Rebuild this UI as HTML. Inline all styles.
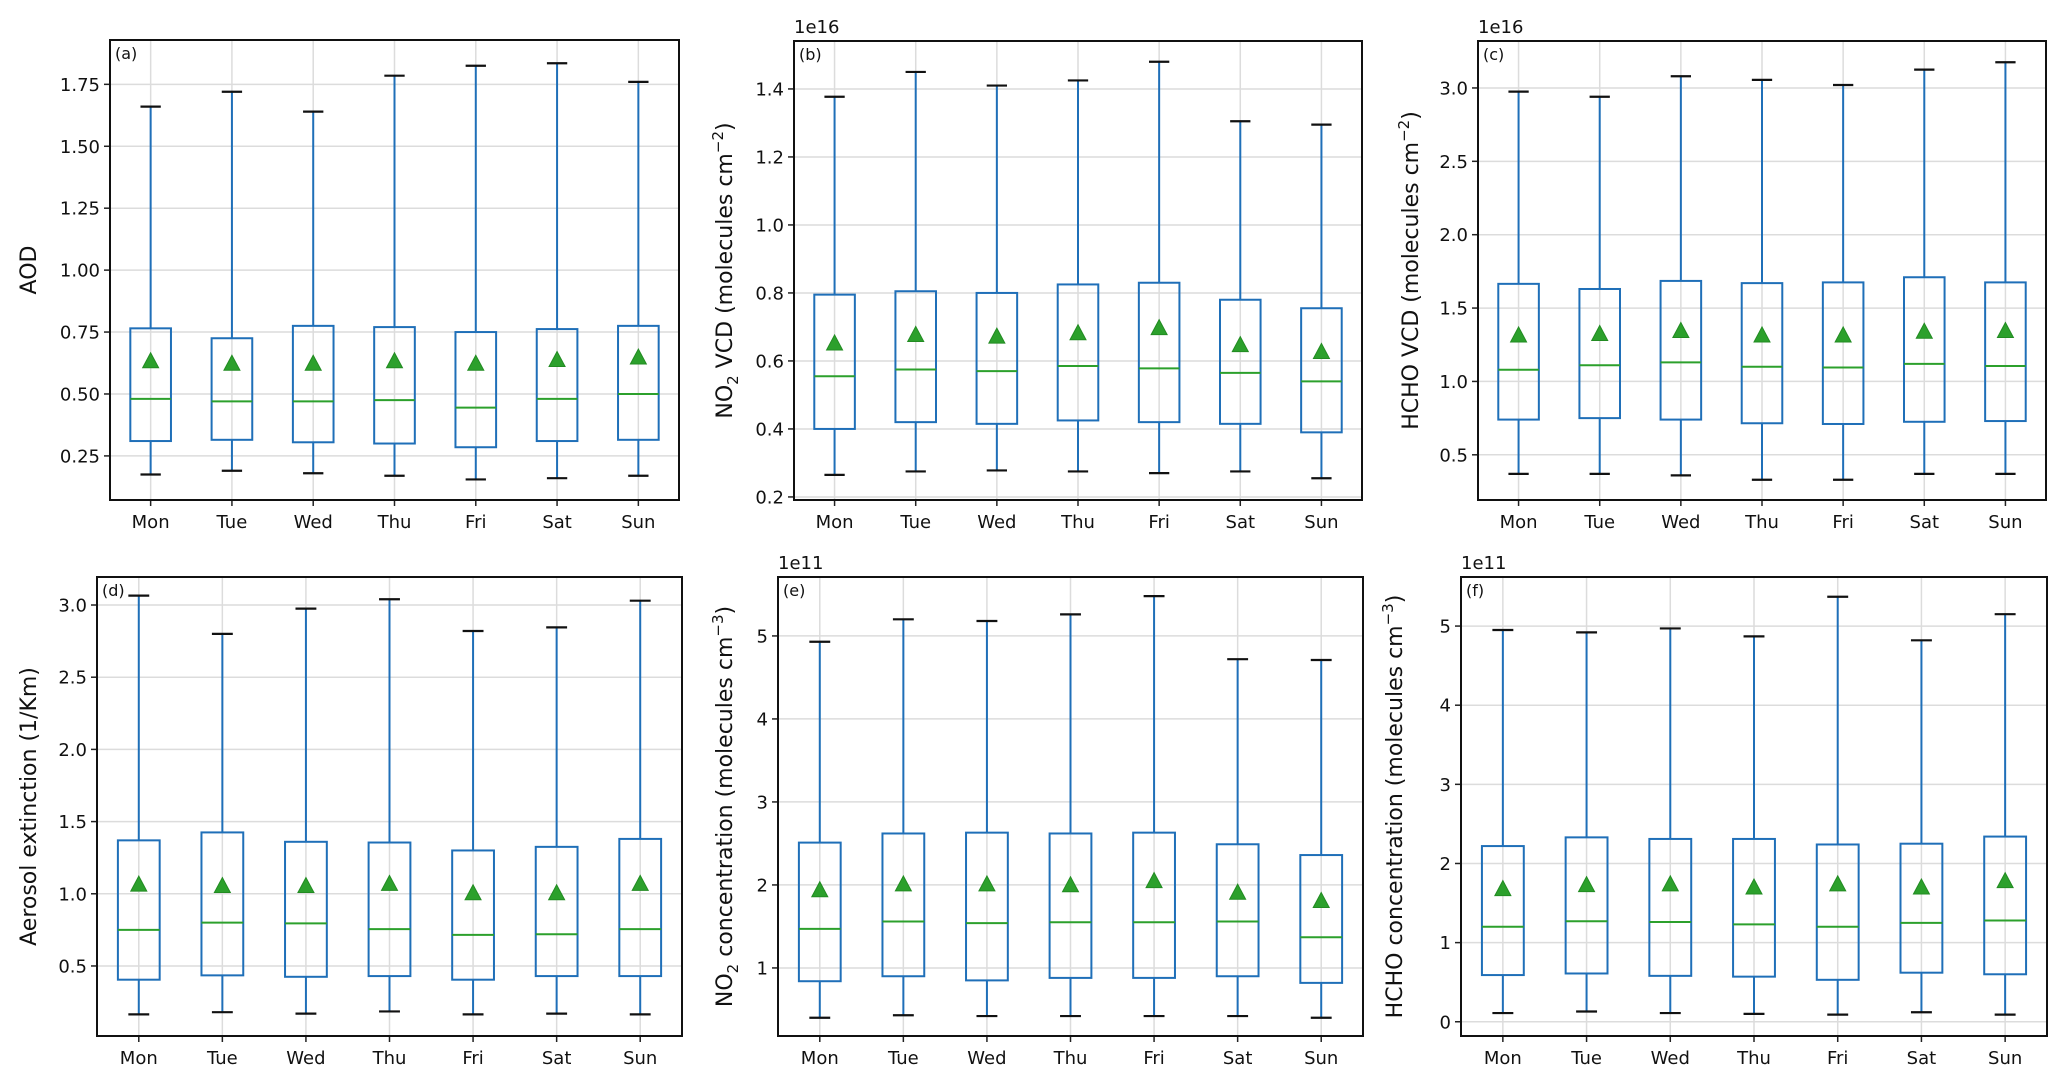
<!DOCTYPE html>
<html><head><meta charset="utf-8"><style>
html,body{margin:0;padding:0;background:#fff;}
svg{display:block;font-family:"DejaVu Sans","Liberation Sans",sans-serif;}
</style></head><body>
<svg id="chart" width="2067" height="1088" viewBox="0 0 2067 1088" xmlns="http://www.w3.org/2000/svg"></svg>
<script>
const categories = ["Mon","Tue","Wed","Thu","Fri","Sat","Sun"];
// each row: [whisker-low, Q1, median, Q3, whisker-high]
const aodStats = [[0.175,0.31,0.48,0.765,1.66],[0.19,0.315,0.47,0.725,1.72],[0.18,0.305,0.47,0.775,1.64],[0.17,0.30,0.475,0.77,1.785],[0.155,0.285,0.445,0.75,1.825],[0.16,0.31,0.48,0.762,1.835],[0.17,0.315,0.50,0.775,1.76]];
const aodMeans = [0.63,0.62,0.62,0.63,0.62,0.635,0.645];
const no2VcdStats = [[0.265,0.40,0.555,0.795,1.377],[0.275,0.42,0.575,0.805,1.45],[0.278,0.415,0.57,0.80,1.41],[0.275,0.425,0.585,0.825,1.425],[0.27,0.42,0.578,0.83,1.48],[0.275,0.415,0.565,0.78,1.305],[0.255,0.39,0.54,0.755,1.295]];
const no2VcdMeans = [0.65,0.675,0.67,0.68,0.695,0.645,0.625];
const hchoVcdStats = [[0.37,0.74,1.08,1.665,2.975],[0.37,0.75,1.11,1.63,2.94],[0.36,0.74,1.13,1.685,3.08],[0.33,0.715,1.10,1.67,3.055],[0.33,0.71,1.095,1.675,3.02],[0.37,0.725,1.12,1.71,3.125],[0.37,0.73,1.105,1.675,3.175]];
const hchoVcdMeans = [1.31,1.32,1.34,1.31,1.31,1.335,1.34];
const extStats = [[0.165,0.405,0.75,1.37,3.065],[0.18,0.435,0.80,1.425,2.80],[0.17,0.425,0.795,1.36,2.975],[0.185,0.43,0.755,1.355,3.04],[0.165,0.405,0.715,1.30,2.82],[0.17,0.43,0.72,1.325,2.845],[0.165,0.43,0.755,1.38,3.03]];
const extMeans = [1.06,1.05,1.05,1.065,1.00,1.00,1.065];
const no2ConcStats = [[0.40,0.84,1.47,2.51,4.93],[0.43,0.90,1.56,2.62,5.20],[0.42,0.85,1.54,2.63,5.18],[0.42,0.88,1.55,2.62,5.26],[0.42,0.88,1.55,2.63,5.48],[0.42,0.90,1.56,2.49,4.72],[0.40,0.82,1.37,2.36,4.71]];
const no2ConcMeans = [1.93,2.00,2.00,1.99,2.04,1.90,1.80];
const hchoConcStats = [[0.11,0.59,1.20,2.22,4.95],[0.13,0.61,1.27,2.33,4.92],[0.11,0.58,1.26,2.31,4.97],[0.10,0.57,1.23,2.31,4.87],[0.09,0.53,1.20,2.24,5.37],[0.12,0.62,1.25,2.25,4.82],[0.09,0.60,1.28,2.34,5.15]];
const hchoConcMeans = [1.67,1.72,1.73,1.69,1.73,1.69,1.77];
const aodTicks = ["0.25","0.50","0.75","1.00","1.25","1.50","1.75"];
const no2VcdTicks = ["0.2","0.4","0.6","0.8","1.0","1.2","1.4"];
const hchoVcdTicks = ["0.5","1.0","1.5","2.0","2.5","3.0"];
const extTicks = ["0.5","1.0","1.5","2.0","2.5","3.0"];
const no2ConcTicks = ["1","2","3","4","5"];
const hchoConcTicks = ["0","1","2","3","4","5"];

const NS="http://www.w3.org/2000/svg";
const svg=document.getElementById('chart');
function mk(tag,attrs,parent){const e=document.createElementNS(NS,tag);for(const k in attrs)e.setAttribute(k,attrs[k]);(parent||svg).appendChild(e);return e;}

const panels=[
 {id:'a',x0:110,x1:679,y0:40,y1:500,ymin:0.072,ymax:1.929,stats:aodStats,means:aodMeans,ticks:aodTicks,label:[['AOD']],mult:'',lx:28},
 {id:'b',x0:794,x1:1362,y0:41,y1:500,ymin:0.191,ymax:1.541,stats:no2VcdStats,means:no2VcdMeans,ticks:no2VcdTicks,label:[['NO'],['2','sub'],[' VCD (molecules cm'],['−2','sup'],[')']],mult:'1e16',lx:724},
 {id:'c',x0:1478,x1:2046,y0:41,y1:500,ymin:0.192,ymax:3.32,stats:hchoVcdStats,means:hchoVcdMeans,ticks:hchoVcdTicks,label:[['HCHO VCD (molecules cm'],['−2','sup'],[')']],mult:'1e16',lx:1410},
 {id:'d',x0:97,x1:682,y0:577,y1:1036,ymin:0.015,ymax:3.194,stats:extStats,means:extMeans,ticks:extTicks,label:[['Aerosol extinction (1/Km)']],mult:'',lx:28},
 {id:'e',x0:778,x1:1363,y0:577,y1:1036,ymin:0.18,ymax:5.71,stats:no2ConcStats,means:no2ConcMeans,ticks:no2ConcTicks,label:[['NO'],['2','sub'],[' concentration (molecules cm'],['−3','sup'],[')']],mult:'1e11',lx:724},
 {id:'f',x0:1461,x1:2047,y0:577,y1:1036,ymin:-0.18,ymax:5.62,stats:hchoConcStats,means:hchoConcMeans,ticks:hchoConcTicks,label:[['HCHO concentration (molecules cm'],['−3','sup'],[')']],mult:'1e11',lx:1394}
];

panels.forEach(p=>{
  const g=mk('g',{});
  
  
  const n=categories.length;
  const sx=i=>p.x0+(i+0.5)*(p.x1-p.x0)/n;
  const sy=v=>p.y1-(v-p.ymin)/(p.ymax-p.ymin)*(p.y1-p.y0);
  const step=(p.x1-p.x0)/n;
  categories.forEach((c,i)=>{
    const l=mk('line',{x1:sx(i),x2:sx(i),y1:p.y0,y2:p.y1,stroke:'#dcdcdc','stroke-width':1.5},g);
    
    
  });
  p.ticks.forEach(t=>{
    const y=sy(parseFloat(t));
    const l=mk('line',{x1:p.x0,x2:p.x1,y1:y,y2:y,stroke:'#dcdcdc','stroke-width':1.5},g);
    
    
    const tk=mk('line',{x1:p.x0-6,x2:p.x0,y1:y,y2:y,stroke:'#222','stroke-width':1.5},g);
    
    
    const tx=mk('text',{x:p.x0-10,y:y+6.5,'text-anchor':'end','font-size':18,fill:'#111'},g);
    tx.textContent=t;
    
    
  });
  p.stats.forEach((s,i)=>{
    const cx=sx(i), bw=step*0.5, cw=step*0.25;
    const bg=mk('g',{},g);
    
    
    mk('line',{x1:cx,x2:cx,y1:sy(s[0]),y2:sy(s[1]),stroke:'#1f6fb8','stroke-width':2},bg);
    mk('line',{x1:cx,x2:cx,y1:sy(s[3]),y2:sy(s[4]),stroke:'#1f6fb8','stroke-width':2},bg);
    mk('rect',{x:cx-bw/2,y:sy(s[3]),width:bw,height:sy(s[1])-sy(s[3]),fill:'none',stroke:'#1f6fb8','stroke-width':2},bg);
    mk('line',{x1:cx-bw/2,x2:cx+bw/2,y1:sy(s[2]),y2:sy(s[2]),stroke:'#2ca02c','stroke-width':2},bg);
    mk('line',{x1:cx-cw/2,x2:cx+cw/2,y1:sy(s[0]),y2:sy(s[0]),stroke:'#111','stroke-width':2.2},bg);
    mk('line',{x1:cx-cw/2,x2:cx+cw/2,y1:sy(s[4]),y2:sy(s[4]),stroke:'#111','stroke-width':2.2},bg);
    const my=sy(p.means[i]);
    const tri=mk('polygon',{points:`${cx},${my-9} ${cx-8},${my+6} ${cx+8},${my+6}`,fill:'#2ca02c',stroke:'#228b22','stroke-width':1},g);
    
    
    const xt=mk('line',{x1:cx,x2:cx,y1:p.y1,y2:p.y1+6,stroke:'#222','stroke-width':1.5},g);
    
    
    const xl=mk('text',{x:cx,y:p.y1+28,'text-anchor':'middle','font-size':18,fill:'#111'},g);
    xl.textContent=categories[i];
    
    
  });
  const fr=mk('rect',{x:p.x0,y:p.y0,width:p.x1-p.x0,height:p.y1-p.y0,fill:'none',stroke:'#111','stroke-width':2},g);
  
  
  const pl=mk('text',{x:p.x0+5,y:p.y0+19,'font-size':16,fill:'#111'},g);
  pl.textContent='('+p.id+')';
  
  
  if(p.mult){
    const m=mk('text',{x:p.x0,y:p.y0-8,'font-size':18,fill:'#111'},g);
    m.textContent=p.mult;
    
    
  }
  const cy=(p.y0+p.y1)/2;
  const yl=mk('text',{x:0,y:0,'text-anchor':'middle','font-size':22,fill:'#111',transform:`translate(${p.lx+8},${cy}) rotate(-90)`},g);
  
  
  p.label.forEach((part,k)=>{
    const ts=mk('tspan',{},yl);
    ts.textContent=part[0];
    if(part[1]==='sub'){ts.setAttribute('font-size','15');ts.setAttribute('dy','6');}
    else if(part[1]==='sup'){ts.setAttribute('font-size','15');ts.setAttribute('dy','-9');}
    else if(k>0){
      const prev=p.label[k-1];
      if(prev[1]==='sub')ts.setAttribute('dy','-6');
      if(prev[1]==='sup')ts.setAttribute('dy','9');
    }
  });
});
</script>
</body></html>
